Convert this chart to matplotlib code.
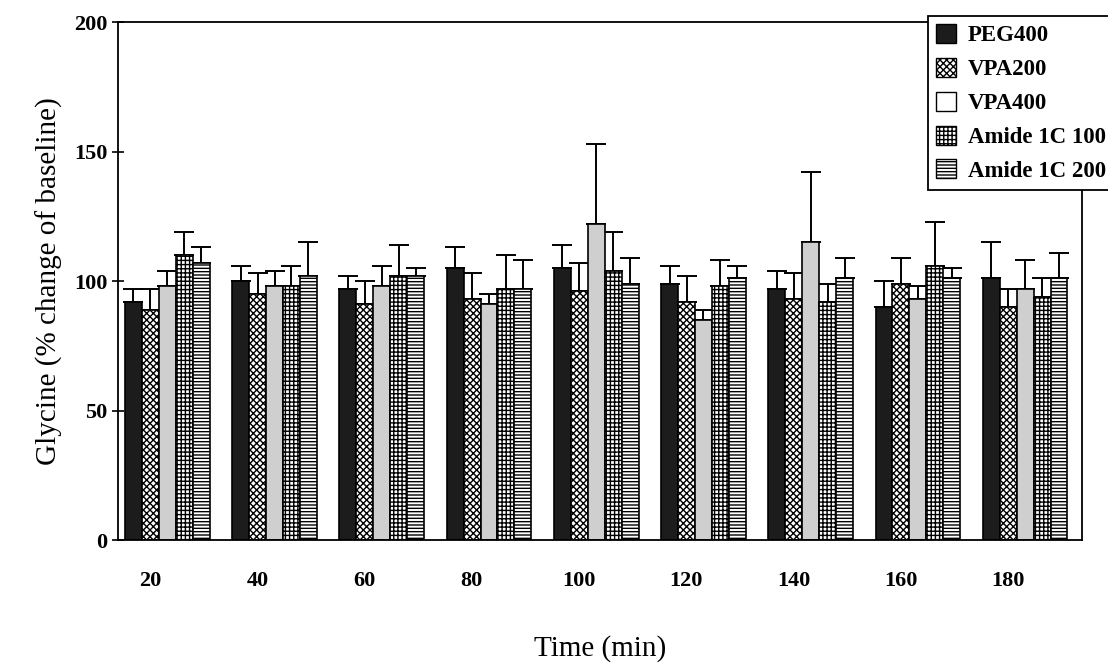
import matplotlib.pyplot as plt
import numpy as np
from matplotlib.patches import Patch

# time points (min)
times = [20, 40, 60, 80, 100, 120, 140, 160, 180]
series = ["PEG400", "VPA200", "VPA400", "Amide 1C 100", "Amide 1C 200"]

# mean glycine (% of baseline) per series
peg400 = [92, 100, 97, 105, 105, 99, 97, 90, 101]
vpa200 = [89, 95, 91, 93, 96, 92, 93, 99, 90]
vpa400 = [98, 98, 98, 91, 122, 85, 115, 93, 97]
amide100 = [110, 98, 102, 97, 104, 98, 92, 106, 94]
amide200 = [107, 102, 102, 97, 99, 101, 101, 101, 101]

# upper error (SEM)
peg400_err = [5, 6, 5, 8, 9, 7, 7, 10, 14]
vpa200_err = [8, 8, 9, 10, 11, 10, 10, 10, 7]
vpa400_err = [6, 6, 8, 4, 31, 4, 27, 5, 11]
amide100_err = [9, 8, 12, 13, 15, 10, 7, 17, 7]
amide200_err = [6, 13, 3, 11, 10, 5, 8, 4, 10]

means = [peg400, vpa200, vpa400, amide100, amide200]
errs = [peg400_err, vpa200_err, vpa400_err, amide100_err, amide200_err]

faces = ["#1c1c1c", "white", "#cfcfcf", "white", "white"]
hatches = ["", "xxxxx", "", "++++", "-----"]
legend_faces = ["#1c1c1c", "white", "white", "white", "white"]

plt.rcParams['font.family'] = ['Liberation Serif', 'DejaVu Serif']
plt.rcParams['hatch.linewidth'] = 1.0

fig = plt.figure(figsize=(11.08, 6.70), dpi=100)
ax = fig.add_axes([0.1065, 0.194, 0.870, 0.773])

x = np.arange(len(times))
w = 0.158
for i in range(len(series)):
    pos = x + (i - 2) * w
    ax.bar(pos, means[i], width=w, color=faces[i], edgecolor="black",
           hatch=hatches[i], linewidth=1.2, zorder=2)
    ax.errorbar(pos, means[i], yerr=[np.zeros(len(times)), errs[i]],
                fmt="none", ecolor="black", elinewidth=1.4, capsize=7,
                capthick=1.4, zorder=1)

ax.set_xlim(-0.46, 8.53)
ax.set_ylim(0, 200)
ax.set_yticks([0, 50, 100, 150, 200])
ax.set_xticks(x - 0.16)
ax.set_xticklabels([str(t) for t in times])
ax.tick_params(axis="x", length=0, pad=22, labelsize=16)
ax.tick_params(axis="y", direction="inout", length=8, width=1.2, labelsize=16)
for lab in ax.get_xticklabels() + ax.get_yticklabels():
    lab.set_fontweight("bold")
for sp in ax.spines.values():
    sp.set_linewidth(1.3)

ax.set_xlabel("Time (min)", fontsize=21, labelpad=32)
ax.set_ylabel("Glycine (% change of baseline)", fontsize=21, labelpad=8)

handles = [Patch(facecolor=legend_faces[i], edgecolor="black", hatch=hatches[i])
           for i in range(len(series))]
leg = ax.legend(handles, series, loc="upper right", bbox_to_anchor=(1.033, 1.012),
                fancybox=False, edgecolor="black", framealpha=1,
                prop={"weight": "bold", "size": 16.5}, handlelength=0.9,
                handleheight=0.9, handletextpad=0.5, labelspacing=0.5,
                borderpad=0.35, borderaxespad=0.0)
leg.get_frame().set_linewidth(1.3)

fig.savefig("out.png", dpi=100)
